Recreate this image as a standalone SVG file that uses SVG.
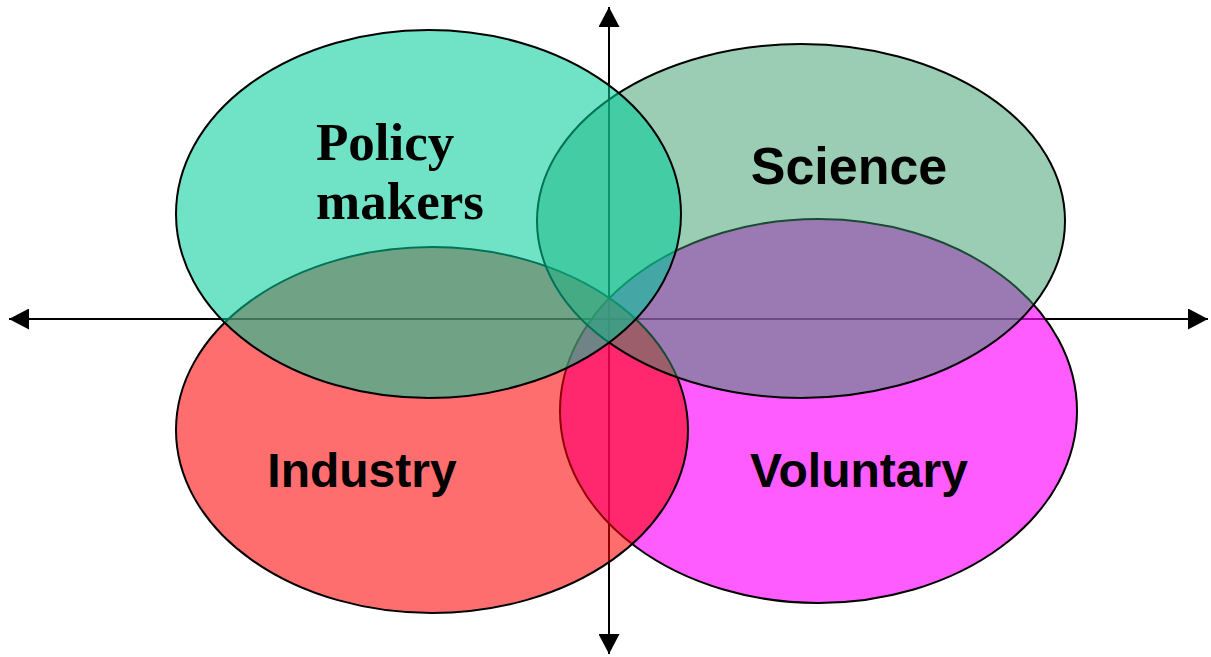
<svg xmlns="http://www.w3.org/2000/svg" width="1211" height="657" viewBox="0 0 1211 657">
<style>
.ax{stroke:#000;stroke-width:2;fill:none}
.el{stroke:#000;stroke-width:2}
.tsans{font-family:"Liberation Sans",Arial,sans-serif;font-weight:bold;font-size:48px;fill:#000}
.tserif{font-family:"Liberation Serif","Times New Roman",serif;font-weight:bold;font-size:53px;fill:#000}
</style>
<defs>
<marker id="ah" viewBox="0 0 20 21" refX="20" refY="10.5" markerWidth="20" markerHeight="21" markerUnits="userSpaceOnUse" orient="auto-start-reverse">
<path d="M0,0 L20,10.5 L0,21 Z" fill="#000"/>
</marker>
</defs>
<rect width="1211" height="657" fill="#fff"/>
<g id="connectors">
<line class="ax" x1="9" y1="319" x2="1208" y2="319" marker-start="url(#ah)" marker-end="url(#ah)"/>
<line class="ax" x1="609" y1="7" x2="609" y2="654" marker-start="url(#ah)" marker-end="url(#ah)"/>
</g>
<g id="voluntary">
<ellipse class="el" cx="818.5" cy="411" rx="258.5" ry="192" fill="#ff00ff" fill-opacity="0.64"/>
<text class="tsans" x="859" y="487" text-anchor="middle">Voluntary</text>
</g>
<g id="industry">
<ellipse class="el" cx="432" cy="430" rx="256" ry="183" fill="#ff0000" fill-opacity="0.57"/>
<text class="tsans" x="362" y="487" text-anchor="middle">Industry</text>
</g>
<g id="science">
<ellipse class="el" cx="801" cy="221" rx="264" ry="177" fill="#339966" fill-opacity="0.49"/>
<text class="tsans" x="849" y="184" text-anchor="middle" style="font-size:52px">Science</text>
</g>
<g id="policy">
<ellipse class="el" cx="428.5" cy="214" rx="252.5" ry="184" fill="#00cc99" fill-opacity="0.56"/>
<text class="tserif" x="316" y="160">Policy</text>
<text class="tserif" x="316" y="219">makers</text>
</g>
</svg>
